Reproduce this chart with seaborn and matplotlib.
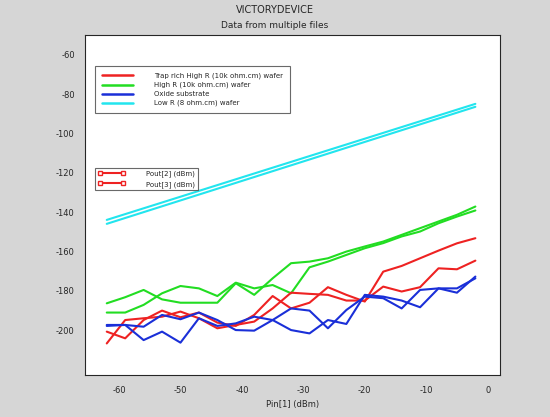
import matplotlib
matplotlib.use("Agg")
import matplotlib.pyplot as plt
from matplotlib.lines import Line2D
import numpy as np
import seaborn as sns

pin = list(range(-62, 1, 3))
red_a = [-206.8, -194.9, -194.0, -193.2, -190.6, -194.0, -199.1, -197.4, -195.7, -189.0, -181.0,
         -181.6, -182.1, -185.0, -185.0, -177.9, -180.4, -178.2, -168.6, -169.1, -164.7]
red_b = [-200.8, -204.2, -194.9, -190.1, -193.5, -191.1, -196.2, -197.9, -192.3, -182.7, -189.0,
         -186.1, -178.2, -182.1, -185.5, -170.3, -167.4, -163.5, -159.6, -155.9, -153.3]
green_a = [-186.4, -183.3, -179.6, -184.4, -186.1, -186.1, -186.1, -176.2, -182.1, -173.7, -166.0,
           -165.2, -163.5, -160.1, -157.5, -155.0, -151.6, -148.2, -144.8, -141.4, -137.2]
green_b = [-191.1, -191.1, -187.2, -181.3, -177.6, -178.8, -182.7, -175.9, -178.8, -177.1, -181.3,
           -168.1, -165.2, -161.8, -158.4, -155.8, -152.4, -149.9, -145.7, -142.3, -139.2]
blue_a = [-197.4, -197.4, -205.1, -200.8, -206.4, -194.0, -197.9, -196.6, -193.2, -194.9, -200.0,
          -201.7, -194.9, -196.9, -182.1, -183.0, -185.0, -188.4, -178.8, -181.0, -172.8]
blue_b = [-197.9, -197.4, -198.3, -192.3, -194.5, -191.1, -194.9, -200.0, -200.3, -194.9, -189.0,
          -190.1, -199.1, -189.8, -183.0, -183.8, -189.0, -179.6, -178.8, -178.8, -173.7]
cyan_x = [-62, -2]
cyan_a = [-144, -85]
cyan_b = [-146, -86.5]

sns.set_style("white")
plt.rcParams["font.family"] = "DejaVu Sans"
plt.rcParams["axes.unicode_minus"] = False
fig = plt.figure(figsize=(5.5, 4.17), dpi=100, facecolor="#d6d6d6")
ax = fig.add_axes([0.155, 0.1, 0.754, 0.816])
ax.set_facecolor("white")

for y, c in [(cyan_a, "#22e5ee"), (cyan_b, "#22e5ee")]:
    sns.lineplot(x=cyan_x, y=y, color=c, lw=1.5, ax=ax)
for y, c in [(green_a, "#22dd22"), (green_b, "#22dd22"), (red_a, "#ee2222"), (red_b, "#ee2222"),
             (blue_a, "#1a2fd8"), (blue_b, "#1a2fd8")]:
    sns.lineplot(x=pin, y=y, color=c, lw=1.5, ax=ax)

ax.set_xlim(-65.5, 2)
ax.set_ylim(-223, -50)
ax.set_xticks(range(-60, 1, 10))
ax.set_yticks(range(-200, -59, 20))
ax.set_xticks(np.arange(-64, 2, 2), minor=True)
ax.set_yticks(np.arange(-222, -50, 4), minor=True)
ax.tick_params(which="both", direction="out", labelsize=6, length=4, width=0.6)
ax.tick_params(which="minor", length=2)
for s in ax.spines.values():
    s.set_linewidth(0.8)
ax.set_xlabel("Pin[1] (dBm)", fontsize=6)
fig.text(0.5, 0.975, "VICTORYDEVICE", ha="center", va="center", fontsize=7)
fig.text(0.5, 0.94, "Data from multiple files", ha="center", va="center", fontsize=6.5)

h1 = [Line2D([], [], color=c, lw=1.8) for c in ["#ee2222", "#22dd22", "#1a2fd8", "#22e5ee"]]
leg1 = ax.legend(h1, ["Trap rich High R (10k ohm.cm) wafer", "High R (10k ohm.cm) wafer",
                      "Oxide substrate", "Low R (8 ohm.cm) wafer"],
                 loc="upper left", bbox_to_anchor=(0.015, 0.92), fontsize=5, frameon=True,
                 fancybox=False, edgecolor="#444444", borderpad=1.0, handlelength=4.5,
                 handletextpad=3, labelspacing=0.4)
leg1.get_frame().set_linewidth(0.8)
ax.add_artist(leg1)
h2 = [Line2D([], [], color="#ee2222", lw=1.5, marker="s", ms=2.5, mfc="white") for _ in range(2)]
leg2 = ax.legend(h2, ["Pout[2] (dBm)", "Pout[3] (dBm)"], loc="upper left",
                 bbox_to_anchor=(0.015, 0.62), fontsize=5, frameon=True, fancybox=False,
                 edgecolor="#444444", handlelength=4, handletextpad=3, numpoints=2)
leg2.get_frame().set_linewidth(0.8)

fig.savefig("out.png", dpi=100, facecolor=fig.get_facecolor())
